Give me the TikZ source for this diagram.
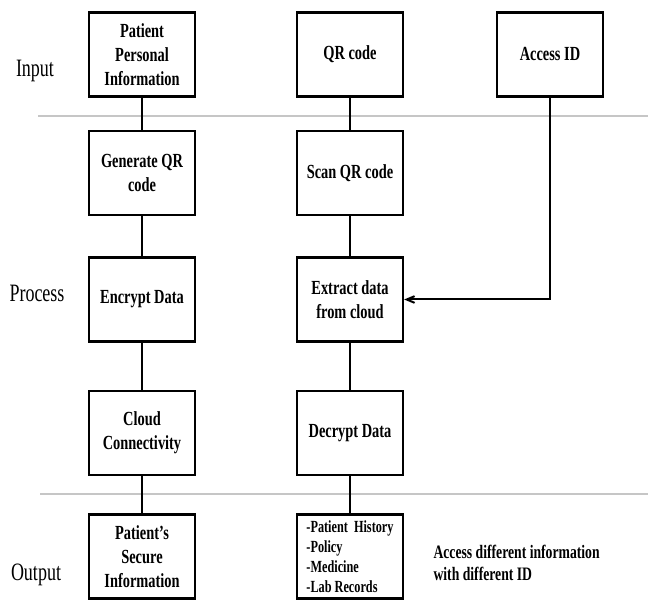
\documentclass[tikz,border=0pt]{standalone}
\usepackage{fontspec}
\setmainfont{Liberation Serif}[FakeStretch=0.72]
\usetikzlibrary{arrows, calc}

\begin{document}
\begin{tikzpicture}[x=1pt, y=-1pt,
    box/.style={draw, line width=2.4pt, minimum width=106pt, minimum height=84pt, inner sep=2pt, align=center, font=\fontsize{20}{24}\selectfont\bfseries},
    stage/.style={font=\fontsize{25}{29}\selectfont},
    link/.style={line width=2pt},
    sep/.style={line width=2pt, gray!45}]
            \useasboundingbox (0,0) rectangle (648,601);
            
            \draw[sep] (38,116) -- (648,116);
            \draw[sep] (40,494) -- (648,494);
            
            \node[stage] (input) at (35,71) {Input};
            \node[stage] (process) at (37,293) {Process};
            \node[stage] (output) at (36,575) {Output};
            
            \node[box] (personal) at (142,54.5) {Patient\\Personal\\Information};
            \node[box] (generate) at (142,173) {Generate QR\\code};
            \node[box] (encrypt) at (142,299.5) {Encrypt Data};
            \node[box] (cloud) at (142,433) {Cloud\\Connectivity};
            \node[box] (secure) at (142,556.5) {Patient's\\Secure\\Information};
            
            \node[box] (qr) at (350,54.5) {QR code};
            \node[box] (scan) at (350,173) {Scan QR code};
            \node[box] (extract) at (350,299.5) {Extract data\\from cloud};
            \node[box] (decrypt) at (350,433) {Decrypt Data};
            \node[box, align=left, font=\fontsize{17}{20}\selectfont\bfseries] (records) at (350,556.5) {-Patient\ \ History\\-Policy\\-Medicine\\-Lab Records};
            
            \node[box] (access) at (550,54.5) {Access ID};
            
            \foreach \a/\b in {personal/generate, generate/encrypt, encrypt/cloud, cloud/secure, qr/scan, scan/extract, extract/decrypt, decrypt/records} {
                \draw[link] (\a) -- (\b);
            }
            \draw[link, ->, >=angle 45] (access.south) |- (extract.east);
            
            \node[anchor=west, align=left, font=\fontsize{19}{22}\selectfont\bfseries] (note) at (430,563) {Access different information\\with different ID};
            
        \end{tikzpicture}
\end{document}
